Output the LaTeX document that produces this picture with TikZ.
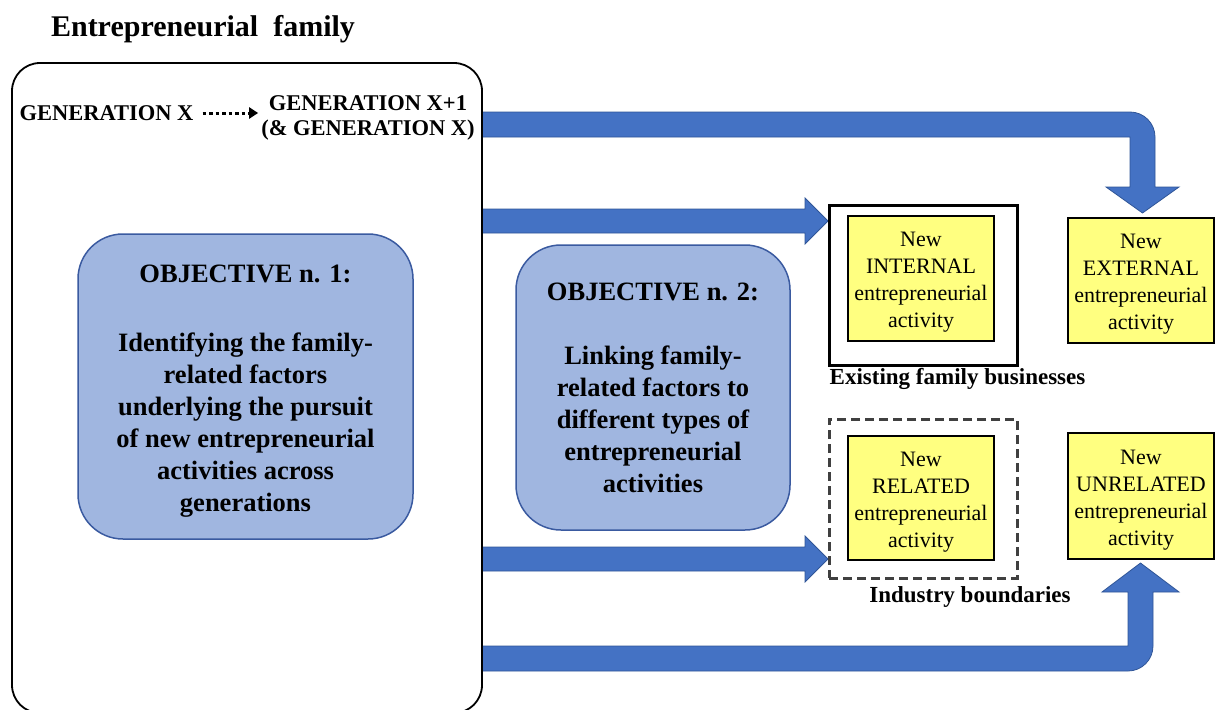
\documentclass[tikz,border=0pt]{standalone}
\usepackage{fontspec}
\setmainfont{Liberation Serif}
\usetikzlibrary{arrows.meta,calc}
\definecolor{arrowblue}{RGB}{68,114,196}
\definecolor{arrowedge}{RGB}{47,85,151}
\definecolor{objfill}{RGB}{160,182,224}
\definecolor{objedge}{RGB}{58,90,160}
\definecolor{yel}{RGB}{255,255,128}
\definecolor{dashgrey}{RGB}{64,64,64}
\begin{document}
\begin{tikzpicture}[x=1pt,y=-1pt,
  blockarrow/.style={fill=arrowblue,draw=arrowedge,line width=0.8pt},
  objbox/.style={draw=objedge,fill=objfill,line width=1.5pt,rounded corners=45pt,inner sep=0pt},
  objtext/.style={align=center,font=\fontsize{26.5}{32}\selectfont\bfseries,inner sep=0pt},
  actbox/.style={draw=black,fill=yel,line width=1.5pt,inner sep=0pt,minimum width=146pt,minimum height=125pt},
  acttext/.style={align=center,font=\fontsize{22}{27}\selectfont,inner sep=0pt},
  gentext/.style={font=\fontsize{22.5}{25}\selectfont\bfseries,align=center,inner sep=0pt},
  labeltext/.style={font=\fontsize{23}{27}\selectfont\bfseries,inner sep=0pt,anchor=base},
  dotarrow/.style={line width=3pt,dash pattern=on 3.5pt off 3pt,-{Triangle[length=9pt,width=11pt]}}
]
\useasboundingbox (0,0) rectangle (1217,709);
\clip (0,0) rectangle (1217,709);
\fill[white] (0,0) rectangle (1217,709);

% block arrows
\filldraw[blockarrow] (482,112) -- (1130,112) .. controls (1143.8,112) and (1155,123.2) .. (1155,137)
  -- (1155,187) -- (1179,187) -- (1142.5,213) -- (1106,187) -- (1130,187) -- (1130,137) -- (482,137) -- cycle;
\filldraw[blockarrow] (482,209) -- (805,209) -- (805,198) -- (828,221) -- (805,244) -- (805,233) -- (482,233) -- cycle;
\filldraw[blockarrow] (482,547) -- (805,547) -- (805,536) -- (828,559) -- (805,582) -- (805,571) -- (482,571) -- cycle;
\filldraw[blockarrow] (482,671) -- (1128,671) .. controls (1141.8,671) and (1153,659.8) .. (1153,646)
  -- (1153,592) -- (1179,592) -- (1140.5,563) -- (1102,592) -- (1128,592) -- (1128,646) -- (482,646) -- cycle;

% family box
\node[draw=black,line width=1.8pt,rounded corners=28pt,minimum width=470pt,minimum height=650pt,inner sep=0pt] (fam) at (247,388) {};
\node[font=\fontsize{30}{36}\selectfont\bfseries,inner sep=0pt,anchor=base] (title) at (203,37) {Entrepreneurial~ family};

\node[gentext] (gx) at (106.5,113) {GENERATION X};
\node[gentext] (gx1) at (368,117.5) {GENERATION X+1\\(\& GENERATION X)};
\draw[dotarrow,shorten <=9pt,shorten >=3pt] (gx.east) -- (gx.east -| gx1.west);

% objectives
\node[objbox,minimum width=335pt,minimum height=305pt] (obj1) at (245.5,386.5) {};
\node[objtext] (obj1t) at (245.5,391) {OBJECTIVE n. 1:\\[37pt]Identifying the family-\\related factors\\underlying the pursuit\\of new entrepreneurial\\activities across\\generations};
\node[objbox,minimum width=274pt,minimum height=285pt] (obj2) at (653,387.5) {};
\node[objtext] (obj2t) at (653,388) {OBJECTIVE n. 2:\\[32pt]Linking family-\\related factors to\\different types of\\entrepreneurial\\activities};

% frames
\node[draw=black,line width=3pt,minimum width=188pt,minimum height=160pt,inner sep=0pt] (fb) at (923,285) {};
\node[draw=dashgrey,line width=3pt,dash pattern=on 9pt off 5pt,minimum width=188pt,minimum height=159pt,inner sep=0pt] (ib) at (923,498.5) {};

% activity boxes
\node[actbox] (int) at (921,278.5) {};
\node[acttext] at ($(int.center)+(0,4)$) {New\\INTERNAL\\entrepreneurial\\activity};
\node[actbox] (ext) at (1141,280.5) {};
\node[acttext] at ($(ext.center)+(0,4)$) {New\\EXTERNAL\\entrepreneurial\\activity};
\node[actbox,minimum height=124pt] (rel) at (921,498) {};
\node[acttext] at ($(rel.center)+(0,4)$) {New\\RELATED\\entrepreneurial\\activity};
\node[actbox,minimum height=126pt] (unrel) at (1141,496) {};
\node[acttext] at ($(unrel.center)+(0,4)$) {New\\UNRELATED\\entrepreneurial\\activity};

\node[labeltext] (fblabel) at (957.5,384) {Existing family businesses};
\node[labeltext] (iblabel) at (970,602) {Industry boundaries};
\end{tikzpicture}
\end{document}
